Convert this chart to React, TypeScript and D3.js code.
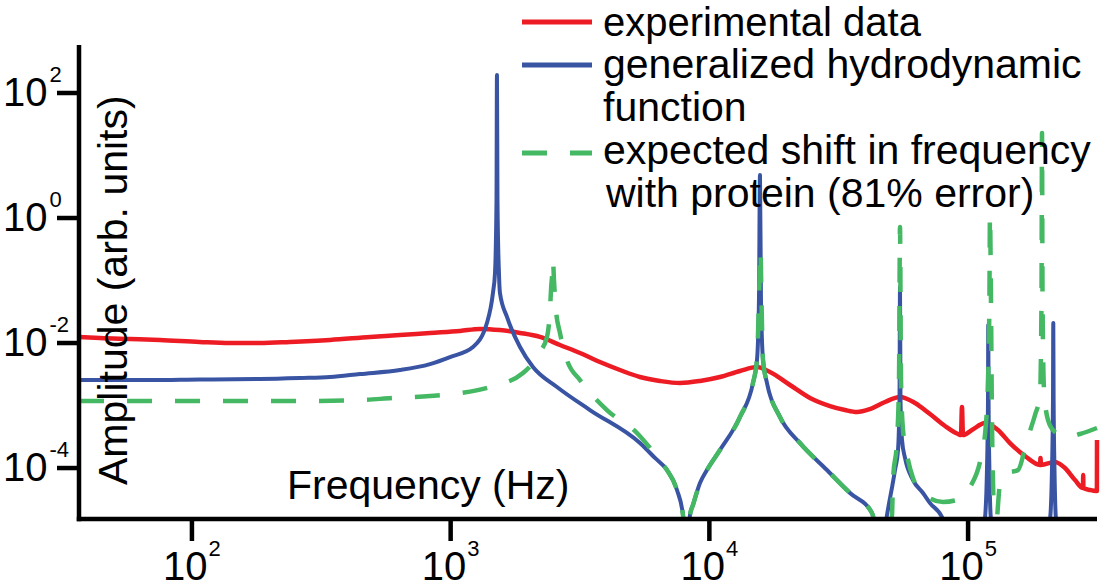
import React from 'react';
import * as d3 from 'd3';

// ---- axis domains & ticks ----
const xDomain: [number, number] = [36.6, 315000];
const yDomain: [number, number] = [1.53e-5, 586];
const xTicks = [1e2, 1e3, 1e4, 1e5];
const xTickExp = ['2', '3', '4', '5'];
const yTicks = [1e2, 1e0, 1e-2, 1e-4];
const yTickExp = ['2', '0', '-2', '-4'];

const xTitle = 'Frequency (Hz)';
const yTitle = 'Amplitude (arb. units)';

// ---- series: [frequency Hz, amplitude] ----
const experimental: [number, number][] = [
  [36.6, 1.25e-2], [44.1, 1.2e-2], [57.6, 1.16e-2], [75.2, 1.12e-2], [107, 1.04e-2],
  [140, 1.0e-2], [183, 1.0e-2], [239, 1.04e-2], [342, 1.12e-2], [488, 1.25e-2],
  [637, 1.34e-2], [832, 1.45e-2], [1086, 1.56e-2], [1298, 1.68e-2], [1551, 1.61e-2],
  [1854, 1.45e-2], [2214, 1.25e-2], [2646, 9.29e-3], [3161, 6.92e-3], [3776, 4.97e-3],
  [4512, 3.7e-3], [5391, 2.86e-3], [6442, 2.47e-3], [7697, 2.29e-3], [9199, 2.47e-3],
  [10990, 2.86e-3], [13130, 3.57e-3], [15280, 4.13e-3], [17150, 3.44e-3], [20490, 2.13e-3],
  [24490, 1.32e-3], [29260, 9.82e-4], [33440, 8.47e-4], [37210, 7.87e-4], [41770, 8.79e-4],
  [47740, 1.14e-3], [54570, 1.37e-3], [62360, 1.1e-3], [71260, 7.31e-4], [81440, 4.7e-4],
  [91420, 3.5e-4], [93870, 3.37e-4], [94700, 9.46e-4], [95560, 3.37e-4], [103500, 4.06e-4],
  [116250, 5.25e-4], [130500, 4.06e-4], [145200, 2.51e-4], [165960, 1.56e-4], [189680, 1.12e-4],
  [190500, 1.45e-4], [191300, 1.12e-4], [216780, 1.25e-4], [236950, 1.0e-4], [259000, 6.43e-5],
  [278100, 4.79e-5], [278600, 7.73e-5], [279100, 4.79e-5], [296000, 4.45e-5], [312200, 4.29e-5],
  [314700, 4.29e-5], [315000, 2.81e-4],
];

const hydrodynamic: [number, number][] = [
  [36.6, 2.56e-3], [68.8, 2.56e-3], [107, 2.61e-3], [183, 2.65e-3], [262, 2.75e-3],
  [342, 2.86e-3], [446, 3.19e-3], [637, 3.7e-3], [832, 4.61e-3], [994, 5.97e-3],
  [1220, 8.63e-3], [1381, 2.09e-2], [1457, 6.31e-2], [1484, 0.132], [1504, 1.94],
  [1510, 194], [1517, 1.94], [1537, 0.132], [1551, 6.31e-2], [1651, 2.61e-2],
  [1854, 8.63e-3], [2081, 4.13e-3], [2576, 1.98e-3], [3455, 8.47e-4], [5391, 2.51e-4],
  [6162, 1.45e-4], [6857, 9.29e-5], [7496, 4.45e-5], [7907, 1.77e-5], [8155, 3.37e-6],
  [8414, 1.77e-5], [8642, 2.56e-5], [9199, 5.75e-5], [9788, 9.29e-5], [10990, 1.94e-4],
  [13130, 6.55e-4], [14740, 2.29e-3], [15280, 5.35e-3], [15550, 4.88e-2], [15690, 4.88],
  [15830, 4.88e-2], [16120, 5.35e-3], [16700, 2.29e-3], [18750, 6.55e-4], [22400, 2.51e-4],
  [28480, 9.29e-5], [34970, 3.98e-5], [42520, 1.91e-5], [45630, 3.37e-6], [48600, 1.77e-5],
  [52190, 9.29e-5], [53600, 1.94e-4], [54320, 1.22e-3], [54560, 7.87e-2], [54800, 1.22e-3],
  [55540, 2.81e-4], [57040, 1.45e-4], [61250, 6.43e-5], [66950, 3.98e-5], [71260, 2.75e-5],
  [79290, 1.64e-5], [85140, 7.05e-6], [101700, 7.73e-7], [116200, 1.53e-5], [118300, 9.29e-5],
  [119400, 1.22e-3], [119700, 1.94e-2], [120000, 1.22e-3], [120900, 9.29e-5], [122600, 1.53e-5],
  [158800, 7.73e-7], [207300, 1.53e-5], [211000, 9.29e-5], [212900, 1.22e-3], [213500, 2.09e-2],
  [214100, 1.22e-3], [215800, 9.29e-5], [218700, 1.53e-5], [270800, 7.73e-7], [315000, 7.73e-7],
];

const shifted: [number, number][] = [
  [36.6, 1.18e-3], [107, 1.18e-3], [262, 1.18e-3], [446, 1.22e-3], [598, 1.32e-3],
  [832, 1.42e-3], [1086, 1.58e-3], [1419, 1.98e-3], [1904, 3.31e-3], [2214, 7.18e-3],
  [2357, 1.25e-2], [2421, 3.37e-2], [2443, 7.05e-2], [2475, 0.147], [2486, 0.213],
  [2508, 0.102], [2553, 3.37e-2], [2646, 1.45e-2], [2816, 5.35e-3], [3161, 2.56e-3],
  [4019, 8.47e-4], [5250, 3.63e-4], [5894, 2.09e-4], [6442, 1.29e-4], [6857, 9.29e-5],
  [7496, 4.45e-5], [7907, 1.77e-5], [8155, 3.37e-6], [8414, 1.77e-5], [8642, 2.56e-5],
  [9199, 5.75e-5], [9788, 9.29e-5], [10990, 1.94e-4], [13130, 6.55e-4], [14740, 2.29e-3],
  [15280, 5.35e-3], [15550, 4.88e-2], [15760, 0.308], [15900, 4.88e-2], [16120, 5.35e-3],
  [16700, 2.29e-3], [18750, 6.55e-4], [22400, 2.51e-4], [28480, 9.29e-5], [34970, 3.98e-5],
  [42520, 1.91e-5], [46900, 3.37e-6], [50810, 1.77e-5], [51270, 6.43e-5], [53130, 2.81e-4],
  [54080, 2.56e-3], [54560, 0.718], [55050, 2.56e-3], [56040, 4.06e-4], [58070, 1.61e-4],
  [61250, 6.92e-5], [68160, 3.7e-5], [79990, 2.86e-5], [90600, 3.08e-5], [101700, 4.97e-5],
  [111200, 1.25e-4], [116200, 3.37e-4], [119400, 2.56e-3], [120900, 4.88e-2], [121500, 1.12],
  [122600, 4.88e-2], [123700, 5.86e-4], [124800, 6.43e-5], [125900, 1.53e-5], [127000, 7.05e-6],
  [129300, 1.53e-5], [132800, 5.35e-5], [142700, 8.32e-5], [156000, 9.29e-5], [169000, 2.81e-4],
  [181400, 7.05e-4], [189700, 1.47e-3], [192200, 4.88e-2], [193100, 22.9], [194000, 4.88e-2],
  [196600, 1.77e-3], [203700, 5.86e-4], [216700, 3.77e-4], [241200, 3.13e-4], [270800, 3.5e-4],
  [315000, 4.37e-4],
];

const legendLabels = [
  ['experimental data'],
  ['generalized hydrodynamic', 'function'],
  ['expected shift in frequency', 'with protein (81% error)'],
];
const seriesColors = ['#ed1c24', '#3a54a4', '#44b863'];

export default function App() {
  const W = 1107;
  const H = 587;
  const left = 79;
  const right = 1097;
  const top = 45;
  const bottom = 519;

  const x = d3.scaleLog().domain(xDomain).range([left, right]);
  const y = d3.scaleLog().domain(yDomain).range([bottom, top]);
  const line = d3
    .line<[number, number]>()
    .x((d) => x(d[0]))
    .y((d) => y(d[1]))
    .curve(d3.curveMonotoneX);

  const font = "'Liberation Sans', Arial, Helvetica, sans-serif";
  const axisW = 4.5;

  return (
    <svg
      width={W}
      height={H}
      style={{ position: 'absolute', left: 0, top: 0, background: '#fff' }}
      fontFamily={font}
    >
      <defs>
        <clipPath id="plotClip">
          <rect x={left} y={0} width={right - left + 4} height={bottom - 2} />
        </clipPath>
      </defs>

      <g clipPath="url(#plotClip)" fill="none" strokeLinejoin="round">
        <path d={line(experimental) || ''} stroke={seriesColors[0]} strokeWidth={4.5} />
        <path d={line(hydrodynamic) || ''} stroke={seriesColors[1]} strokeWidth={4} />
        <path d={line(shifted) || ''} stroke={seriesColors[2]} strokeWidth={4.5} strokeDasharray="25 23" />
      </g>

      {/* axes */}
      <line x1={left} x2={left} y1={top} y2={bottom + axisW / 2} stroke="#000" strokeWidth={axisW} />
      <line x1={left - axisW / 2} x2={right} y1={bottom} y2={bottom} stroke="#000" strokeWidth={axisW} />

      {yTicks.map((t, i) => (
        <g key={'y' + i}>
          <line x1={57} x2={left} y1={y(t)} y2={y(t)} stroke="#000" strokeWidth={axisW} />
          <text x={3} y={y(t) + 13} fontSize={40} fill="#000">
            <tspan>10</tspan>
            <tspan dx={2} dy={-24} fontSize={22}>{yTickExp[i]}</tspan>
          </text>
        </g>
      ))}

      {xTicks.map((t, i) => (
        <g key={'x' + i}>
          <line x1={x(t)} x2={x(t)} y1={bottom} y2={541} stroke="#000" strokeWidth={axisW} />
          <text x={x(t)} y={580} fontSize={40} fill="#000" textAnchor="middle">
            <tspan>10</tspan>
            <tspan dx={1} dy={-24} fontSize={22}>{xTickExp[i]}</tspan>
          </text>
        </g>
      ))}

      <text x={287} y={499} fontSize={41} fill="#000">{xTitle}</text>
      <text transform="translate(127,485) rotate(-90)" fontSize={41} fill="#000">{yTitle}</text>

      {/* legend */}
      <line x1={522} x2={592} y1={22} y2={22} stroke={seriesColors[0]} strokeWidth={5} />
      <line x1={522} x2={592} y1={65} y2={65} stroke={seriesColors[1]} strokeWidth={5} />
      <line x1={522} x2={592} y1={153} y2={153} stroke={seriesColors[2]} strokeWidth={5} strokeDasharray="25 23" />
      <text x={603} y={36} fontSize={40} fill="#000">{legendLabels[0][0]}</text>
      <text x={603} y={78} fontSize={41} fill="#000">{legendLabels[1][0]}</text>
      <text x={603} y={121} fontSize={41} fill="#000">{legendLabels[1][1]}</text>
      <text x={603} y={164} fontSize={41} fill="#000">{legendLabels[2][0]}</text>
      <text x={606} y={207} fontSize={41} fill="#000">{legendLabels[2][1]}</text>
    </svg>
  );
}
